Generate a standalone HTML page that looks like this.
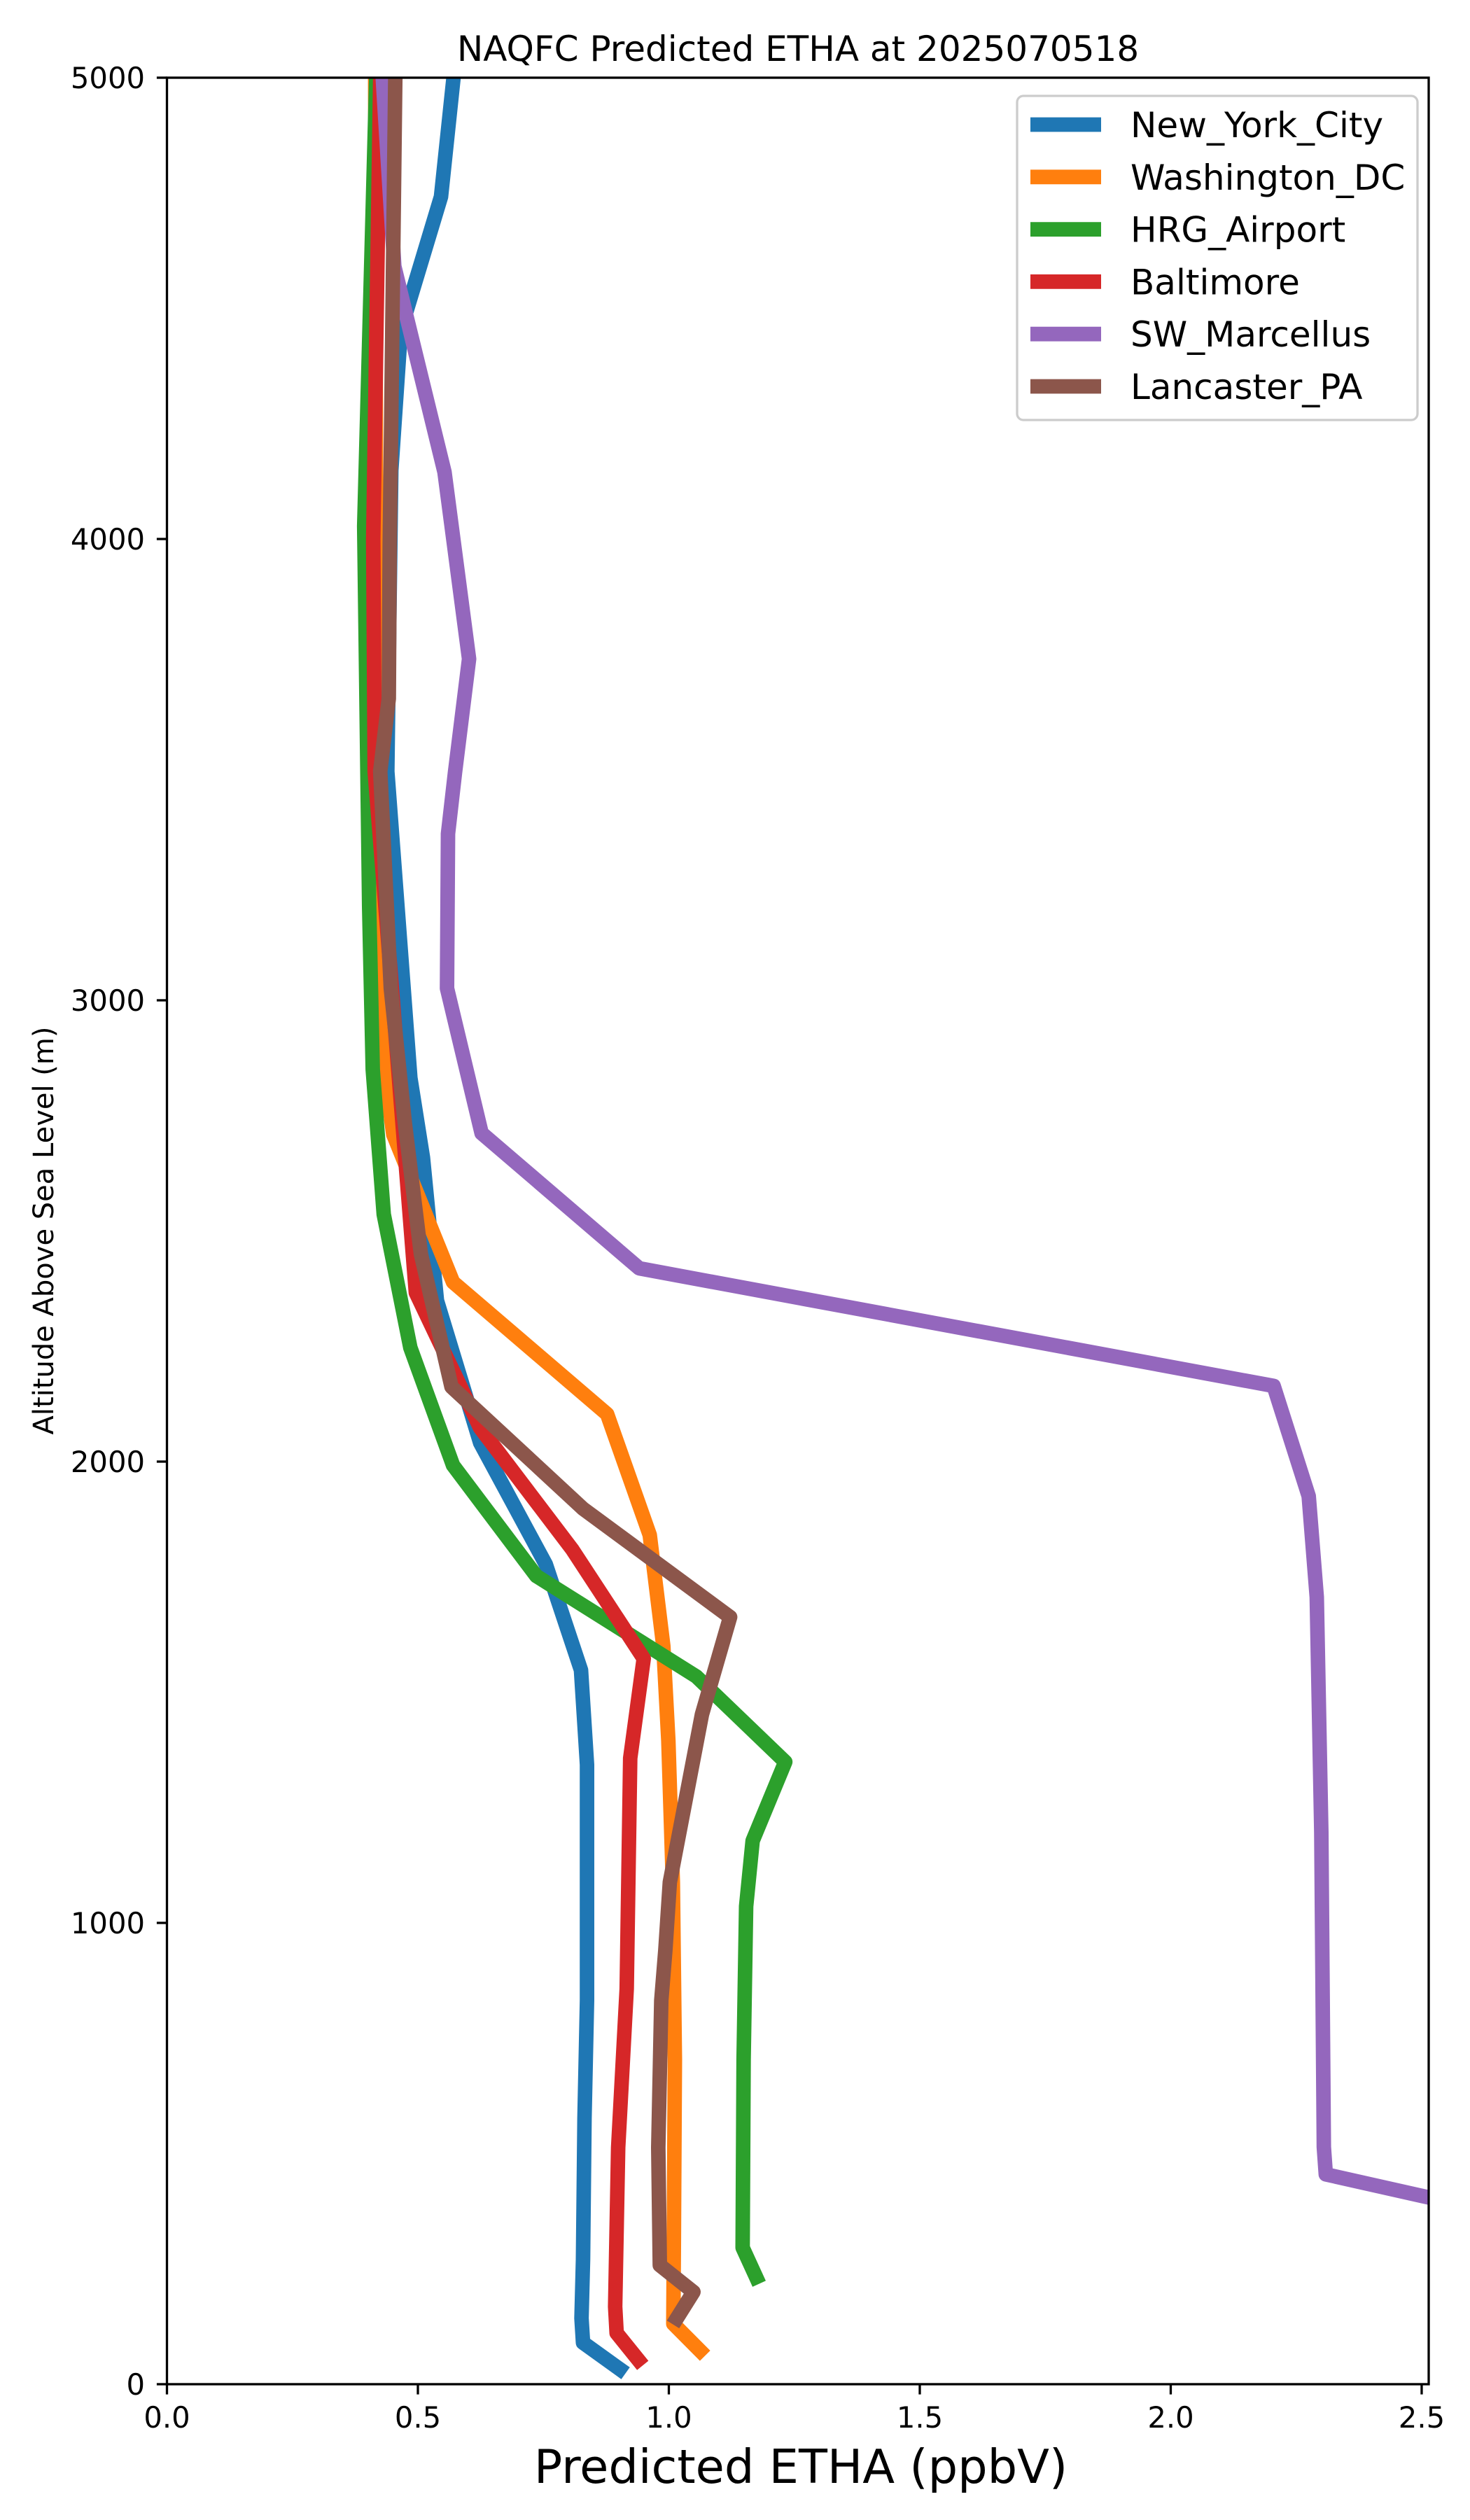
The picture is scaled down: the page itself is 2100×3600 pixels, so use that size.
<!DOCTYPE html>
<html><head><meta charset="utf-8"><style>
html,body{margin:0;padding:0;background:#fff}
svg{display:block}
text{font-family:"DejaVu Sans","Liberation Sans",sans-serif;fill:#000}
</style></head><body>
<svg id="chart" width="2100" height="3600" viewBox="0 0 2100 3600" xmlns="http://www.w3.org/2000/svg">
<rect x="0" y="0" width="2100" height="3600" fill="#fff"/>
<defs><clipPath id="plotclip"><rect x="238.5" y="111" width="1802.5" height="3295"/></clipPath></defs>
<text x="1140" y="87" font-size="50" text-anchor="middle">NAQFC Predicted ETHA at 2025070518</text>
<g id="series" clip-path="url(#plotclip)"></g>
<g id="axes"></g>
<text x="1144" y="3547" font-size="67" text-anchor="middle">Predicted ETHA (ppbV)</text>
<text x="0" y="0" font-size="40" text-anchor="middle" transform="translate(76,1758) rotate(-90)">Altitude Above Sea Level (m)</text>
<g id="legend"></g>
</svg>
<script>
const seriesNames = ["New_York_City","Washington_DC","HRG_Airport","Baltimore","SW_Marcellus","Lancaster_PA"];
const seriesColors = ["#1f77b4","#ff7f0e","#2ca02c","#d62728","#9467bd","#8c564b"];
const nycAlt = [33,90,143,270,577,832,1343,1548,1777,2041,2349,2659,2832,3496,4149,4453,4742,5000];
const nycVal = [0.902,0.829,0.826,0.829,0.832,0.837,0.837,0.825,0.755,0.624,0.538,0.510,0.485,0.439,0.447,0.466,0.546,0.571];
const dcAlt = [73,131,322,704,1088,1395,1600,1841,2103,2389,2709,2860,3202,5000];
const dcVal = [1.062,1.009,1.010,1.012,1.008,0.999,0.989,0.962,0.877,0.570,0.451,0.432,0.418,0.415];
const hrgAlt = [232,296,704,1036,1178,1349,1534,1752,1992,2247,2536,2850,3202,4028,5000];
const hrgVal = [1.174,1.147,1.149,1.154,1.167,1.232,1.055,0.736,0.570,0.485,0.432,0.410,0.403,0.393,0.417];
const balAlt = [53,111,168,513,857,1357,1573,1809,2073,2366,3496,4000,5000];
const balVal = [0.939,0.896,0.893,0.899,0.916,0.923,0.950,0.808,0.624,0.496,0.414,0.411,0.425];
const swmAlt = [396,455,514,1196,1706,1925,2164,2419,2712,3026,3361,3494,3740,4145,4591,5000];
const swmVal = [2.55,2.309,2.305,2.300,2.291,2.275,2.205,0.941,0.627,0.558,0.560,0.574,0.602,0.553,0.453,0.430];
const lanAlt = [143,200,258,513,832,941,1088,1452,1663,1898,2162,2450,2733,3026,3496,3654,3990,5000];
const lanVal = [1.016,1.049,0.982,0.979,0.985,0.993,1.002,1.066,1.122,0.829,0.567,0.506,0.474,0.446,0.425,0.442,0.444,0.455];
const xTicks = [0,0.5,1.0,1.5,2.0,2.5];
const xTickLabels = ["0.0","0.5","1.0","1.5","2.0","2.5"];
const yTicks = [0,1000,2000,3000,4000,5000];
const yTickLabels = ["0","1000","2000","3000","4000","5000"];

const PX0=238.5, PX1=2041, PY0=111, PY1=3406, XMAX=2.514, YMAX=5000;
function xs(v){return PX0+v/XMAX*(PX1-PX0);}
function ys(v){return PY1-v/YMAX*(PY1-PY0);}
const NS="http://www.w3.org/2000/svg";
const allAlt=[nycAlt,dcAlt,hrgAlt,balAlt,swmAlt,lanAlt];
const allVal=[nycVal,dcVal,hrgVal,balVal,swmVal,lanVal];
const sg=document.getElementById('series');
for(let s=0;s<6;s++){
  const p=document.createElementNS(NS,'polyline');
  p.setAttribute('points',allVal[s].map((v,i)=>xs(v).toFixed(1)+','+ys(allAlt[s][i]).toFixed(1)).join(' '));
  p.setAttribute('fill','none');p.setAttribute('stroke',seriesColors[s]);
  p.setAttribute('stroke-width','20.8');p.setAttribute('stroke-linejoin','round');p.setAttribute('stroke-linecap','square');
  
  
  sg.appendChild(p);
}
const ag=document.getElementById('axes');
const frame=document.createElementNS(NS,'rect');
frame.setAttribute('x',PX0);frame.setAttribute('y',PY0);frame.setAttribute('width',PX1-PX0);frame.setAttribute('height',PY1-PY0);
frame.setAttribute('fill','none');frame.setAttribute('stroke','#000');frame.setAttribute('stroke-width','3.3');


ag.appendChild(frame);
xTicks.forEach((t,i)=>{
  const l=document.createElementNS(NS,'line');
  l.setAttribute('x1',xs(t));l.setAttribute('x2',xs(t));l.setAttribute('y1',PY1);l.setAttribute('y2',PY1+14.6);
  l.setAttribute('stroke','#000');l.setAttribute('stroke-width','3.3');
  
  
  ag.appendChild(l);
  const tx=document.createElementNS(NS,'text');
  tx.setAttribute('x',xs(t));tx.setAttribute('y',3468);tx.setAttribute('font-size','41.7');tx.setAttribute('text-anchor','middle');
  tx.textContent=xTickLabels[i];
  
  
  ag.appendChild(tx);
});
yTicks.forEach((t,i)=>{
  const l=document.createElementNS(NS,'line');
  l.setAttribute('x1',PX0-14.6);l.setAttribute('x2',PX0);l.setAttribute('y1',ys(t));l.setAttribute('y2',ys(t));
  l.setAttribute('stroke','#000');l.setAttribute('stroke-width','3.3');
  
  
  ag.appendChild(l);
  const tx=document.createElementNS(NS,'text');
  tx.setAttribute('x',207);tx.setAttribute('y',ys(t)+15);tx.setAttribute('font-size','41.7');tx.setAttribute('text-anchor','end');
  tx.textContent=yTickLabels[i];
  
  
  ag.appendChild(tx);
});
const lg=document.getElementById('legend');
const box=document.createElementNS(NS,'rect');
box.setAttribute('x',1453);box.setAttribute('y',137);box.setAttribute('width',572);box.setAttribute('height',463);
box.setAttribute('rx',9);box.setAttribute('fill','#fff');box.setAttribute('fill-opacity','0.8');box.setAttribute('stroke','#cccccc');box.setAttribute('stroke-width','3.3');


lg.appendChild(box);
seriesNames.forEach((n,i)=>{
  const cy=178+i*74.8;
  const l=document.createElementNS(NS,'line');
  l.setAttribute('x1',1472);l.setAttribute('x2',1573);l.setAttribute('y1',cy);l.setAttribute('y2',cy);
  l.setAttribute('stroke',seriesColors[i]);l.setAttribute('stroke-width','20.8');
  
  
  lg.appendChild(l);
  const tx=document.createElementNS(NS,'text');
  tx.setAttribute('x',1615);tx.setAttribute('y',cy+18);tx.setAttribute('font-size','50');
  tx.textContent=n;
  
  
  lg.appendChild(tx);
});
</script>
</body></html>
